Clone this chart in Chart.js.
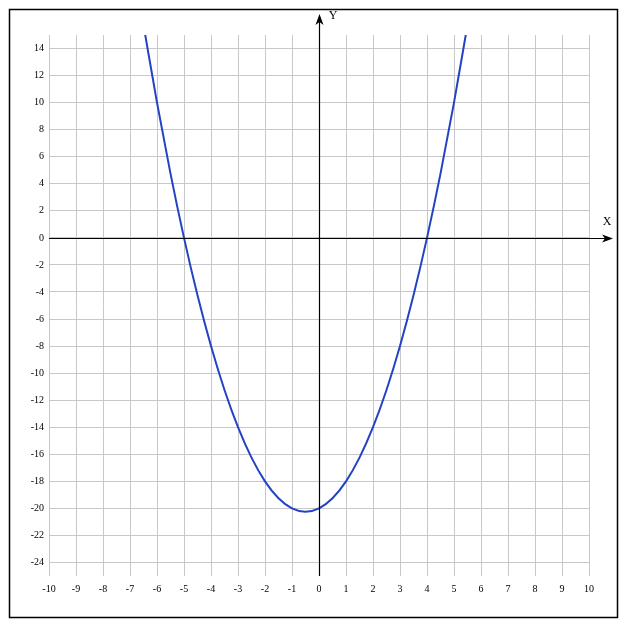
<!DOCTYPE html>
<html>
<head>
  <meta charset="UTF-8" />
  <title>y = x² + x - 20</title>
  <script src="https://cdn.jsdelivr.net/npm/chart.js"></script>
  <style>
    html, body { margin: 0; padding: 0; background: #fff; }
    canvas { display: block; }
  </style>
</head>
<body>
  <canvas id="graph" width="627" height="630"></canvas>

  <script>
    // values
    const curveX = [-6.5, -6, -5.5, -5, -4.5, -4, -3.5, -3, -2.5, -2, -1.5, -1, -0.5,
                    0, 0.5, 1, 1.5, 2, 2.5, 3, 3.5, 4, 4.5, 5, 5.5];
    const curveY = [15.75, 10, 4.75, 0, -4.25, -8, -11.25, -14, -16.25, -18, -19.25, -20, -20.25,
                    -20, -19.25, -18, -16.25, -14, -11.25, -8, -4.25, 0, 4.75, 10, 15.75];
    const xTicks = [-10, -9, -8, -7, -6, -5, -4, -3, -2, -1, 0, 1, 2, 3, 4, 5, 6, 7, 8, 9, 10];
    const yTicks = [-24, -22, -20, -18, -16, -14, -12, -10, -8, -6, -4, -2, 0, 2, 4, 6, 8, 10, 12, 14];

    const labelFont = { family: '"Liberation Serif", "DejaVu Serif", serif', size: 10 };

    function arrowHead(ctx, x, y, dir) {
      // dir: 'right' or 'up'
      ctx.beginPath();
      if (dir === 'right') {
        ctx.moveTo(x, y);
        ctx.lineTo(x - 11, y - 4);
        ctx.lineTo(x - 8, y);
        ctx.lineTo(x - 11, y + 4);
      } else {
        ctx.moveTo(x, y);
        ctx.lineTo(x - 4, y + 11);
        ctx.lineTo(x, y + 8);
        ctx.lineTo(x + 4, y + 11);
      }
      ctx.closePath();
      ctx.fill();
    }

    const axesPlugin = {
      id: 'axes',
      afterDatasetsDraw(chart) {
        const { ctx, chartArea, scales } = chart;
        const x0 = Math.round(scales.x.getPixelForValue(0)) + 0.5;
        const y0 = Math.round(scales.y.getPixelForValue(0)) + 0.5;
        ctx.save();
        ctx.strokeStyle = '#000';
        ctx.fillStyle = '#000';
        ctx.lineWidth = 1.2;
        // x axis
        ctx.beginPath();
        ctx.moveTo(chartArea.left, y0);
        ctx.lineTo(610, y0);
        ctx.stroke();
        arrowHead(ctx, 613, y0, 'right');
        // y axis
        ctx.beginPath();
        ctx.moveTo(x0, chartArea.bottom);
        ctx.lineTo(x0, 17);
        ctx.stroke();
        arrowHead(ctx, x0, 14, 'up');
        // axis names
        ctx.font = '12px "Liberation Serif", serif';
        ctx.textAlign = 'center';
        ctx.textBaseline = 'middle';
        ctx.fillText('X', 607, 222);
        ctx.fillText('Y', 333, 16);
        // frame
        ctx.lineWidth = 1.5;
        ctx.strokeRect(9.5, 9.5, 608, 608);
        ctx.restore();
      }
    };

    const ctx = document.getElementById('graph').getContext('2d');
    const chart = new Chart(ctx, {
      type: 'scatter',
      data: {
        datasets: [{
          data: curveX.map((x, i) => ({ x: x, y: curveY[i] })),
          showLine: true,
          borderColor: '#2343c4',
          borderWidth: 2,
          pointRadius: 0,
          cubicInterpolationMode: 'monotone',
          fill: false
        }]
      },
      options: {
        responsive: false,
        animation: false,
        layout: { padding: { top: 35, right: 38, bottom: 34, left: 0 } },
        plugins: { legend: { display: false }, tooltip: { enabled: false } },
        scales: {
          x: {
            type: 'linear',
            min: -10,
            max: 10,
            afterBuildTicks: s => { s.ticks = xTicks.map(v => ({ value: v })); },
            afterFit: s => { s.height = 20; },
            border: { display: false },
            grid: { color: '#c8c8c8', lineWidth: 1, drawTicks: false },
            ticks: { color: '#000', font: labelFont, padding: 7, maxRotation: 0, autoSkip: false }
          },
          y: {
            type: 'linear',
            min: -25,
            max: 15,
            afterBuildTicks: s => { s.ticks = yTicks.map(v => ({ value: v })); },
            afterFit: s => { s.width = 49; },
            border: { display: false },
            grid: { color: '#c8c8c8', lineWidth: 1, drawTicks: false },
            ticks: { color: '#000', font: labelFont, padding: 5, autoSkip: false }
          }
        }
      },
      plugins: [axesPlugin]
    });
  </script>
</body>
</html>
